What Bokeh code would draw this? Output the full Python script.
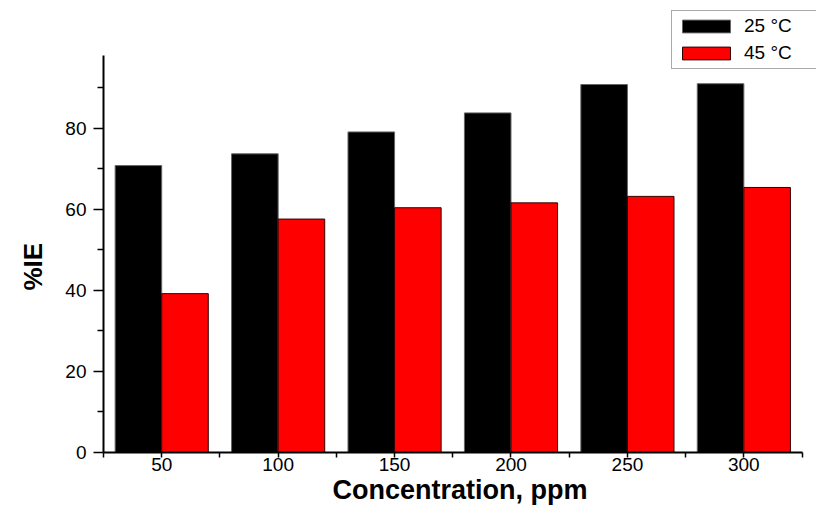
from bokeh.plotting import figure
from bokeh.models import ColumnDataSource, Range1d, FixedTicker, Legend, LegendItem, Title
from bokeh.transform import dodge
from bokeh.embed import file_html
from bokeh.resources import INLINE

# ---- data ----
concentration = [50, 100, 150, 200, 250, 300]
ie_25C = [70.8, 73.7, 79.1, 83.8, 90.8, 91.0]
ie_45C = [39.2, 57.6, 60.4, 61.6, 63.2, 65.4]
series_labels = ["25 °C", "45 °C"]
x_ticks = [50, 100, 150, 200, 250, 300]
x_minor = [25, 75, 125, 175, 225, 275, 325]
y_ticks = [0, 20, 40, 60, 80]
y_minor = [10, 30, 50, 70, 90]

src = ColumnDataSource(dict(conc=concentration, t25=ie_25C, t45=ie_45C))

FONT = "Liberation Sans"

p = figure(width=816, height=514, output_backend="svg", toolbar_location=None,
           x_range=Range1d(25, 331.2), y_range=Range1d(0, 110.3),
           min_border_left=103, min_border_right=0, min_border_top=5,
           min_border_bottom=62)
p.outline_line_color = None
p.grid.visible = False
p.background_fill_color = "white"
p.border_fill_color = "white"

r1 = p.vbar(x=dodge("conc", -10, range=p.x_range), top="t25", width=20, source=src,
            fill_color="black", line_color="#666666", line_width=1)
r2 = p.vbar(x=dodge("conc", 10, range=p.x_range), top="t45", width=20, source=src,
            fill_color="#ff0000", line_color="#330000", line_width=1)

# axes
xa = p.xaxis[0]
xa.ticker = FixedTicker(ticks=x_ticks, minor_ticks=x_minor)
xa.axis_label = "Concentration, ppm"
xa.bounds = (25, 325)
ya = p.yaxis[0]
ya.ticker = FixedTicker(ticks=y_ticks, minor_ticks=y_minor)
ya.bounds = (0, 98)

for ax in (xa, ya):
    ax.axis_line_color = "black"
    ax.axis_line_width = 2
    ax.major_tick_line_color = "black"
    ax.minor_tick_line_color = "black"
    ax.major_tick_line_width = 1.5
    ax.minor_tick_line_width = 1.5
    ax.major_tick_in = 0
    ax.minor_tick_in = 0
    ax.major_label_text_font = FONT
    ax.major_label_text_font_size = "19px"
    ax.major_label_text_color = "black"
    ax.axis_label_text_font = FONT
    ax.axis_label_text_font_style = "bold"
    ax.axis_label_text_color = "black"

xa.major_tick_out = 5
xa.minor_tick_out = 5
xa.major_label_standoff = 0
xa.axis_label_standoff = 1
xa.axis_label_text_font_size = "27px"

ya.major_tick_out = 10
ya.minor_tick_out = 6
ya.major_label_standoff = 7

# y-axis title, centred on the axis extent rather than the frame
ytitle = Title(text="%IE", align="left", offset=162, standoff=30,
               text_font=FONT, text_font_size="26px", text_font_style="bold",
               text_color="black")
p.add_layout(ytitle, "left")

legend = Legend(items=[LegendItem(label=series_labels[0], renderers=[r1]),
                       LegendItem(label=series_labels[1], renderers=[r2])],
                location=(568, 383),
                glyph_width=60, glyph_height=16, label_standoff=8,
                label_width=100, label_height=16,
                spacing=5, padding=4, margin=0,
                border_line_color="#555555", border_line_width=1,
                background_fill_color="white", background_fill_alpha=1,
                label_text_font=FONT, label_text_font_size="19px",
                label_text_color="black")
p.add_layout(legend, "center")

open("out.html", "w").write(file_html(p, INLINE))
